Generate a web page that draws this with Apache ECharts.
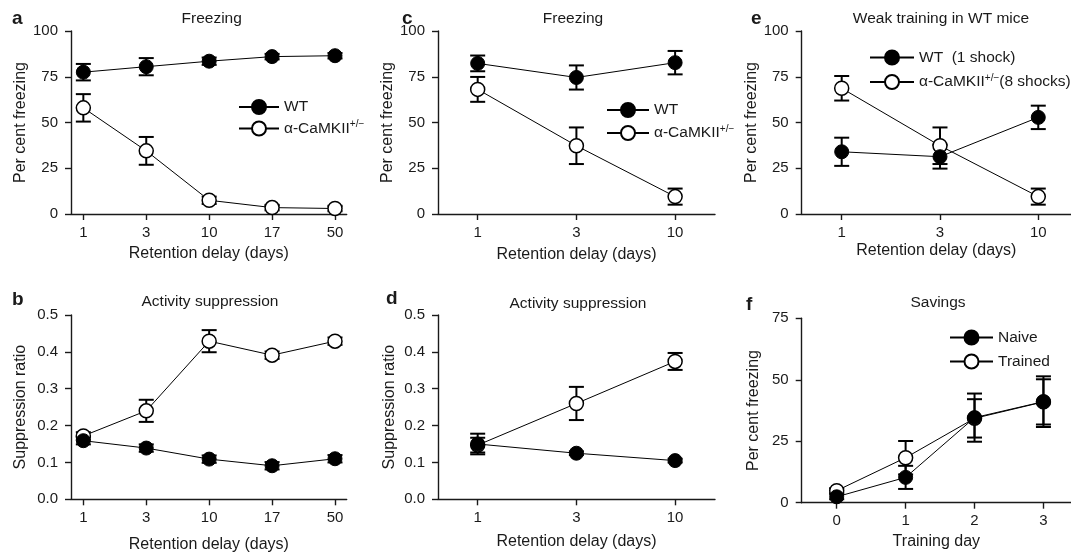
<!DOCTYPE html>
<html>
<head>
<meta charset="utf-8">
<script src="https://cdn.jsdelivr.net/npm/echarts@6/dist/echarts.min.js"></script>
<style>
  html, body { margin: 0; padding: 0; background: #fff; }
  #main { width: 1071px; height: 553px; }
</style>
</head>
<body>
<div id="main"></div>
<script>
// tick labels
const delayLabels5 = ['1', '3', '10', '17', '50'];
const delayLabels3 = ['1', '3', '10'];
const dayLabels = ['0', '1', '2', '3'];
const pos5 = [1, 2, 3, 4, 5];
const pos3 = [1, 2, 3];
const posDay = [0, 1, 2, 3];

// a: freezing
const aWT = [77.5, 80.5, 83.5, 86, 86.5];
const aWTErr = [4.5, 4.7, 2, 1.5, 1.5];
const aMut = [58, 34.5, 7.5, 3.5, 3];
const aMutErr = [7.5, 7.6, 2, 1.5, 1.5];

// b: activity suppression
const bWT = [0.159, 0.139, 0.109, 0.091, 0.11];
const bWTErr = [0.01, 0.01, 0.01, 0.01, 0.01];
const bMut = [0.172, 0.24, 0.429, 0.391, 0.429];
const bMutErr = [0.01, 0.03, 0.03, 0.01, 0.01];

// c: freezing
const cWT = [82.3, 74.6, 82.7];
const cWTErr = [4.3, 6.6, 6.4];
const cMut = [68.1, 37.3, 9.5];
const cMutErr = [6.8, 10, 4.4];

// d: activity suppression
const dWT = [0.15, 0.125, 0.105];
const dWTErr = [0.028, 0.005, 0.005];
const dMut = [0.147, 0.26, 0.374];
const dMutErr = [0.02, 0.045, 0.023];

// e: weak training
const eWT = [34, 31.3, 52.8];
const eWTErr = [7.7, 6.5, 6.4];
const eMut = [68.7, 37.3, 9.5];
const eMutErr = [6.7, 10, 4.4];

// f: savings
const fNaive = [2.4, 10.3, 34.6, 41.1];
const fNaiveErr = [1, 4.7, 9.8, 10.3];
const fTrained = [4.9, 18.3, 34.3, 41];
const fTrainedErr = [1, 6.8, 7.8, 9.2];

const FONT = 'Liberation Sans, Arial, Helvetica, sans-serif';
const INK = '#1a1a1a';
const WT = 'WT';
const MUT = 'α-CaMKII+/−';

const pts = (xs, ys) => xs.map((x, i) => [x, ys[i]]);
const errPts = (xs, ys, es) => xs.map((x, i) => [x, ys[i], es[i]]);

const panels = [
  { grid: [71, 31, 275.7, 183], x: [0.804, 5.186], pos: pos5, labels: delayLabels5,
    y: [0, 100, 25], yName: 'Per cent freezing', xName: 'Retention delay (days)', xGap: 32, yGap: 42,
    filled: [WT, aWT, aWTErr], open: [MUT, aMut, aMutErr] },
  { grid: [71, 315, 275.7, 184.3], x: [0.804, 5.186], pos: pos5, labels: delayLabels5,
    y: [0, 0.5, 0.1], yName: 'Suppression ratio', xName: 'Retention delay (days)', xGap: 37, yGap: 42, dec: 1,
    filled: [WT, bWT, bWTErr], open: [MUT, bMut, bMutErr] },
  { grid: [438, 31, 277, 183], x: [0.598, 3.404], pos: pos3, labels: delayLabels3,
    y: [0, 100, 25], yName: 'Per cent freezing', xName: 'Retention delay (days)', xGap: 33, yGap: 40,
    filled: [WT, cWT, cWTErr], open: [MUT, cMut, cMutErr] },
  { grid: [438, 315, 277, 184.3], x: [0.598, 3.404], pos: pos3, labels: delayLabels3,
    y: [0, 0.5, 0.1], yName: 'Suppression ratio', xName: 'Retention delay (days)', xGap: 34, yGap: 40, dec: 1,
    filled: [WT, dWT, dWTErr], open: [MUT, dMut, dMutErr] },
  { grid: [801.7, 31, 269.3, 183], x: [0.593, 3.333], pos: pos3, labels: delayLabels3,
    y: [0, 100, 25], yName: 'Per cent freezing', xName: 'Retention delay (days)', xGap: 29, yGap: 40,
    filled: ['WT  (1 shock)', eWT, eWTErr], open: ['α-CaMKII+/−(8 shocks)', eMut, eMutErr] },
  { grid: [801.7, 318.3, 269.3, 184.4], x: [-0.508, 3.4], pos: posDay, labels: dayLabels,
    y: [0, 75, 25], yName: 'Per cent freezing', xName: 'Training day', xGap: 31, yGap: 40,
    filled: ['Naive', fNaive, fNaiveErr], open: ['Trained', fTrained, fTrainedErr] }
];

const grids = [], xAxes = [], yAxes = [], series = [];
const axisLine = { onZero: false, lineStyle: { color: INK, width: 1.4 } };
const axisTick = { length: 6, lineStyle: { color: INK, width: 1.4 } };

function errorBar(params, api) {
  const x = api.value(0), m = api.value(1), s = api.value(2);
  const top = api.coord([x, m + s]);
  const bot = api.coord([x, m - s]);
  const w = 7.5;
  const st = { stroke: '#000', lineWidth: 2 };
  return {
    type: 'group',
    children: [
      { type: 'line', shape: { x1: top[0], y1: top[1], x2: bot[0], y2: bot[1] }, style: st },
      { type: 'line', shape: { x1: top[0] - w, y1: top[1], x2: top[0] + w, y2: top[1] }, style: st },
      { type: 'line', shape: { x1: bot[0] - w, y1: bot[1], x2: bot[0] + w, y2: bot[1] }, style: st }
    ]
  };
}

panels.forEach((p, i) => {
  grids.push({ left: p.grid[0], top: p.grid[1], width: p.grid[2], height: p.grid[3], outerBoundsMode: 'none' });
  xAxes.push({
    type: 'value', gridIndex: i, min: p.x[0], max: p.x[1],
    name: p.xName, nameLocation: 'middle', nameGap: p.xGap,
    nameTextStyle: { fontSize: 16, color: INK },
    axisLine: axisLine,
    axisTick: Object.assign({ customValues: p.pos }, axisTick),
    axisLabel: { customValues: p.pos, fontSize: 15, color: INK, margin: 11,
      formatter: v => p.labels[p.pos.indexOf(Math.round(v))] },
    splitLine: { show: false }
  });
  yAxes.push({
    type: 'value', gridIndex: i, min: p.y[0], max: p.y[1], interval: p.y[2],
    name: p.yName, nameLocation: 'middle', nameRotate: 90, nameGap: p.yGap,
    nameTextStyle: { fontSize: 16, color: INK },
    axisLine: Object.assign({ show: true }, axisLine),
    axisTick: Object.assign({ show: true }, axisTick),
    axisLabel: { fontSize: 15, color: INK, margin: 13,
      formatter: v => p.dec ? v.toFixed(p.dec) : String(v) },
    splitLine: { show: false }
  });
  [p.open, p.filled].forEach(s => {
    series.push({
      type: 'custom', xAxisIndex: i, yAxisIndex: i, z: 1, silent: true,
      renderItem: errorBar, data: errPts(p.pos, s[1], s[2])
    });
  });
  series.push({
    name: p.open[0], type: 'line', xAxisIndex: i, yAxisIndex: i, z: 3,
    symbol: 'circle', symbolSize: 14, showAllSymbol: true,
    lineStyle: { color: '#000', width: 1 },
    itemStyle: { color: '#fff', borderColor: '#000', borderWidth: 1.5 },
    data: pts(p.pos, p.open[1])
  });
  series.push({
    name: p.filled[0], type: 'line', xAxisIndex: i, yAxisIndex: i, z: 4,
    symbol: 'circle', symbolSize: 14, showAllSymbol: true,
    lineStyle: { color: '#000', width: 1 },
    itemStyle: { color: '#000', borderColor: '#000', borderWidth: 1 },
    data: pts(p.pos, p.filled[1])
  });
});

const rich = {
  n: { fontSize: 15.5, color: INK, fontFamily: FONT, lineHeight: 18 },
  s: { fontSize: 10, color: INK, fontFamily: FONT, verticalAlign: 'top', lineHeight: 18 }
};
function legendFmt(name) {
  const k = name.indexOf('+/−');
  if (k < 0) return '{n|' + name + '}';
  return '{n|' + name.slice(0, k) + '}{s|+/−}{n|' + name.slice(k + 3) + '}';
}
function legend(left, top, w, gap, names) {
  return {
    orient: 'vertical', left: left, top: top, itemWidth: w, itemHeight: 17.5, itemGap: gap,
    data: names, selectedMode: false, formatter: legendFmt,
    textStyle: { fontSize: 15.5, color: INK, rich: rich }
  };
}

const txt = (x, y, t, size, bold) => ({
  type: 'text', x: x, y: y,
  style: { text: t, fontSize: size, fontWeight: bold ? 'bold' : 'normal', fontFamily: FONT, fill: INK,
    textAlign: bold ? 'left' : 'center', textVerticalAlign: 'middle' }
});

const option = {
  animation: false,
  textStyle: { fontFamily: FONT },
  grid: grids,
  xAxis: xAxes,
  yAxis: yAxes,
  legend: [
    legend(233, 94, 40, 4.5, [WT, MUT]),
    legend(601, 97, 42, 6, [WT, MUT]),
    legend(864, 44.5, 44, 7.5, ['WT  (1 shock)', 'α-CaMKII+/−(8 shocks)']),
    legend(944, 324.5, 43, 8, ['Naive', 'Trained'])
  ],
  graphic: [
    txt(211.7, 18.8, 'Freezing', 15.5),
    txt(210, 302, 'Activity suppression', 15.5),
    txt(573, 18.8, 'Freezing', 15.5),
    txt(578, 303.4, 'Activity suppression', 15.5),
    txt(941, 18.5, 'Weak training in WT mice', 15.5),
    txt(938, 302.4, 'Savings', 15.5),
    txt(12, 18.4, 'a', 19, true),
    txt(12, 300, 'b', 19, true),
    txt(402, 18.4, 'c', 19, true),
    txt(386, 298.4, 'd', 19, true),
    txt(751, 18.4, 'e', 19, true),
    txt(746, 305, 'f', 19, true)
  ],
  series: series
};

const chart = echarts.init(document.getElementById('main'));
chart.setOption(option);
</script>
</body>
</html>
